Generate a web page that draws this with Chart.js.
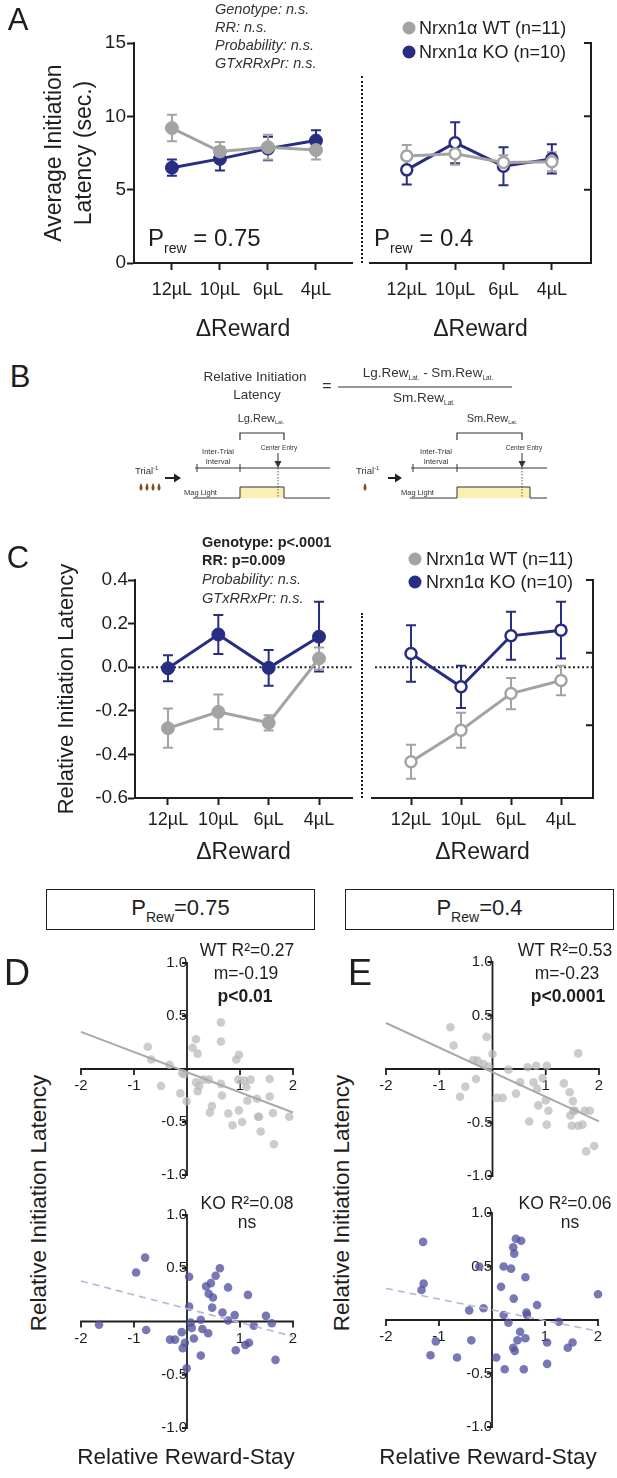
<!DOCTYPE html>
<html>
<head>
<meta charset="utf-8">
<script src="https://cdn.jsdelivr.net/npm/chart.js@4.4.1/dist/chart.umd.min.js"></script>
<style>
  body { margin: 0; background: #fff; }
  #fig { position: relative; width: 617px; height: 1478px; overflow: hidden; font-family: "Liberation Sans", Arial, sans-serif; color: #1e1e1e; }
  #fig canvas { position: absolute; }
  .t { position: absolute; white-space: nowrap; line-height: 1; }
  .cc { transform: translate(-50%, -50%); }
  .lc { transform: translateY(-50%); }
  .stat { font-size: 14.5px; color: #333; }
  .it { font-style: italic; }
  .bd { font-weight: bold; }
  .dot { position: absolute; width: 13px; height: 13px; border-radius: 50%; transform: translate(-50%, -50%); }
  .leg { font-size: 18px; }
  .sep { position: absolute; border-left: 2px dotted #1e1e1e; width: 0; }
  .prew { font-size: 24px; }
  .prew sub { font-size: 14px; vertical-align: -7px; }
  .box { position: absolute; border: 1.5px solid #1e1e1e; box-sizing: border-box; display: flex; align-items: center; justify-content: center; font-size: 22px; }
  .box sub { font-size: 14px; vertical-align: -7px; }
  .fit { font-size: 17.5px; }
  .rot { transform: translate(-50%, -50%) rotate(-90deg); font-size: 22.5px; }
  .ax { font-size: 22.5px; }
  .panel { font-size: 31px; }
</style>
</head>
<body>
<div id="fig">
  <canvas id="aL" width="362" height="347" style="left:0;top:0"></canvas>
  <canvas id="aR" width="255" height="347" style="left:362px;top:0"></canvas>
  <canvas id="cL" width="362" height="330" style="left:0;top:540px"></canvas>
  <canvas id="cR" width="255" height="330" style="left:362px;top:540px"></canvas>
  <canvas id="dT" width="252" height="252" style="left:61px;top:943px"></canvas>
  <canvas id="dB" width="252" height="253" style="left:61px;top:1195px"></canvas>
  <canvas id="eT" width="253" height="254" style="left:366px;top:942px"></canvas>
  <canvas id="eB" width="252" height="254" style="left:366px;top:1193px"></canvas>

  <!-- panel A text -->
  <div class="t cc panel" style="left:18px;top:19px">A</div>
  <div class="t lc stat it" style="left:215px;top:9px">Genotype: n.s.</div>
  <div class="t lc stat it" style="left:215px;top:27px">RR: n.s.</div>
  <div class="t lc stat it" style="left:215px;top:45px">Probability: n.s.</div>
  <div class="t lc stat it" style="left:215px;top:63px">GTxRRxPr: n.s.</div>
  <div class="dot" style="left:409px;top:28px;background:#a3a3a3"></div>
  <div class="t lc leg" style="left:419px;top:28px">Nrxn1α WT (n=11)</div>
  <div class="dot" style="left:409px;top:52px;background:#262d82"></div>
  <div class="t lc leg" style="left:419px;top:52px">Nrxn1α KO (n=10)</div>
  <div class="t lc prew" style="left:148px;top:240px">P<sub>rew</sub> = 0.75</div>
  <div class="t lc prew" style="left:374px;top:240px">P<sub>rew</sub> = 0.4</div>
  <div class="sep" style="left:361px;top:76px;height:187px"></div>

  <!-- panel B schematic -->
  <div class="t cc panel" style="left:20px;top:376px">B</div>
  <svg style="position:absolute;left:0;top:340px" width="617" height="170" viewBox="0 340 617 170"
       font-family="Liberation Sans, Arial, sans-serif" fill="#333">
    <text x="255" y="381" text-anchor="middle" font-size="13.5">Relative Initiation</text>
    <text x="257" y="399" text-anchor="middle" font-size="13.5">Latency</text>
    <text x="327" y="391" text-anchor="middle" font-size="16">=</text>
    <text x="428" y="377" text-anchor="middle" font-size="13.5">Lg.Rew<tspan font-size="6.5" dy="3">Lat.</tspan><tspan dy="-3"> - Sm.Rew</tspan><tspan font-size="6.5" dy="3">Lat.</tspan></text>
    <line x1="338" y1="387" x2="512" y2="387" stroke="#333" stroke-width="1.2"/>
    <text x="424" y="402" text-anchor="middle" font-size="13.5">Sm.Rew<tspan font-size="6.5" dy="3">Lat.</tspan></text>

    <text x="261" y="422" text-anchor="middle" font-size="11">Lg.Rew<tspan font-size="5.5" dy="2">Lat.</tspan></text>
    <path d="M240 440 V433 H284 V440" fill="none" stroke="#333" stroke-width="1.2"/>
    <text x="218" y="454" text-anchor="middle" font-size="7.5">Inter-Trial</text>
    <text x="218" y="464" text-anchor="middle" font-size="7.5">Interval</text>
    <text x="279" y="450" text-anchor="middle" font-size="6.5">Center Entry</text>
    <line x1="278" y1="453" x2="278" y2="462" stroke="#333" stroke-width="1"/>
    <polygon points="274.5,461 281.5,461 278,468" fill="#333"/>
    <line x1="195" y1="468" x2="330" y2="468" stroke="#333" stroke-width="1"/>
    <line x1="197" y1="464" x2="197" y2="472" stroke="#333" stroke-width="1"/>
    <line x1="240" y1="464" x2="240" y2="472" stroke="#333" stroke-width="1"/>
    <rect x="240" y="487" width="44" height="11" fill="#fcefb6"/>
    <polyline points="193,498 240,498 240,487 284,487 284,498 330,498" fill="none" stroke="#333" stroke-width="1"/>
    <line x1="278" y1="468" x2="278" y2="498" stroke="#333" stroke-width="0.8" stroke-dasharray="1.5 1.5"/>
    <text x="135" y="474" font-size="9.5">Trial<tspan font-size="6" dy="-4">-1</tspan></text>
    <line x1="165" y1="478" x2="175" y2="478" stroke="#222" stroke-width="2"/>
    <polygon points="174,473.5 181,478 174,482.5" fill="#222"/>
    <path d="M141 483 Q144 488 141 491 Q138 488 141 483 Z M147 483 Q150 488 147 491 Q144 488 147 483 Z M153 483 Q156 488 153 491 Q150 488 153 483 Z M159 483 Q162 488 159 491 Q156 488 159 483 Z" fill="#8a4b1f"/>
    <text x="184" y="495" font-size="7.5">Mag Light</text>

    <text x="492" y="422" text-anchor="middle" font-size="11">Sm.Rew<tspan font-size="5.5" dy="2">Lat.</tspan></text>
    <path d="M457 440 V433 H522 V440" fill="none" stroke="#333" stroke-width="1.2"/>
    <text x="436" y="454" text-anchor="middle" font-size="7.5">Inter-Trial</text>
    <text x="436" y="464" text-anchor="middle" font-size="7.5">Interval</text>
    <text x="524" y="450" text-anchor="middle" font-size="6.5">Center Entry</text>
    <line x1="522" y1="453" x2="522" y2="462" stroke="#333" stroke-width="1"/>
    <polygon points="518.5,461 525.5,461 522,468" fill="#333"/>
    <line x1="411" y1="468" x2="547" y2="468" stroke="#333" stroke-width="1"/>
    <line x1="413" y1="464" x2="413" y2="472" stroke="#333" stroke-width="1"/>
    <line x1="457" y1="464" x2="457" y2="472" stroke="#333" stroke-width="1"/>
    <rect x="457" y="487" width="73" height="11" fill="#fcefb6"/>
    <polyline points="410,498 457,498 457,487 530,487 530,498 547,498" fill="none" stroke="#333" stroke-width="1"/>
    <line x1="522" y1="468" x2="522" y2="498" stroke="#333" stroke-width="0.8" stroke-dasharray="1.5 1.5"/>
    <text x="356" y="474" font-size="9.5">Trial<tspan font-size="6" dy="-4">-1</tspan></text>
    <line x1="388" y1="478" x2="396" y2="478" stroke="#222" stroke-width="2"/>
    <polygon points="395,473.5 402,478 395,482.5" fill="#222"/>
    <path d="M365 483 Q368 488 365 491 Q362 488 365 483 Z" fill="#8a4b1f"/>
    <text x="401" y="495" font-size="7.5">Mag Light</text>
  </svg>

  <!-- panel C text -->
  <div class="t cc panel" style="left:18px;top:557px">C</div>
  <div class="t lc stat bd" style="left:202px;top:542px;color:#222">Genotype: p&lt;.0001</div>
  <div class="t lc stat bd" style="left:202px;top:560px;color:#222">RR: p=0.009</div>
  <div class="t lc stat it" style="left:202px;top:579px">Probability: n.s.</div>
  <div class="t lc stat it" style="left:202px;top:598px">GTxRRxPr: n.s.</div>
  <div class="dot" style="left:415px;top:559px;background:#a3a3a3"></div>
  <div class="t lc leg" style="left:426px;top:559px">Nrxn1α WT (n=11)</div>
  <div class="dot" style="left:415px;top:582px;background:#262d82"></div>
  <div class="t lc leg" style="left:426px;top:582px">Nrxn1α KO (n=10)</div>
  <div class="sep" style="left:361px;top:613px;height:185px"></div>

  <!-- panels D / E text -->
  <div class="box" style="left:46px;top:889px;width:269px;height:41px"><span>P<sub>Rew</sub>=0.75</span></div>
  <div class="box" style="left:345px;top:889px;width:269px;height:41px"><span>P<sub>Rew</sub>=0.4</span></div>
  <div class="t cc panel" style="left:17px;top:973px;font-size:36px">D</div>
  <div class="t cc panel" style="left:360px;top:973px;font-size:36px">E</div>
  <div class="t cc fit" style="left:247px;top:951px">WT R²=0.27</div>
  <div class="t cc fit" style="left:246px;top:974px">m=-0.19</div>
  <div class="t cc fit bd" style="left:245px;top:997px">p&lt;0.01</div>
  <div class="t cc fit" style="left:565px;top:951px">WT R²=0.53</div>
  <div class="t cc fit" style="left:567px;top:974px">m=-0.23</div>
  <div class="t cc fit bd" style="left:568px;top:997px">p&lt;0.0001</div>
  <div class="t cc fit" style="left:247px;top:1204px">KO R²=0.08</div>
  <div class="t cc fit" style="left:247px;top:1223px">ns</div>
  <div class="t cc fit" style="left:565px;top:1204px">KO R²=0.06</div>
  <div class="t cc fit" style="left:570px;top:1223px">ns</div>
  <div class="t rot" style="left:39px;top:1203px">Relative Initiation Latency</div>
  <div class="t rot" style="left:342px;top:1203px">Relative Initiation Latency</div>
  <div class="t cc ax" style="left:186px;top:1457px">Relative Reward-Stay</div>
  <div class="t cc ax" style="left:488px;top:1457px">Relative Reward-Stay</div>
</div>

<script>
const GRAY = '#a3a3a3';
const NAVY = '#262d82';
const INK = '#1e1e1e';

// reward size categories (x axis of A and C)
const rewardLabels = ['12µL', '10µL', '6µL', '4µL'];

// A: average initiation latency (sec.), mean and SEM
const aWtP75 = [9.2, 7.6, 7.9, 7.7];
const aWtP75Err = [0.9, 0.65, 0.85, 0.65];
const aKoP75 = [6.5, 7.1, 7.8, 8.35];
const aKoP75Err = [0.55, 0.8, 0.8, 0.7];
const aWtP40 = [7.3, 7.45, 6.85, 6.9];
const aWtP40Err = [0.75, 0.75, 0.5, 0.65];
const aKoP40 = [6.35, 8.2, 6.6, 7.1];
const aKoP40Err = [1.0, 1.4, 1.3, 1.0];

// C: relative initiation latency, mean and SEM
const cWtP75 = [-0.28, -0.205, -0.255, 0.04];
const cWtP75Err = [0.09, 0.08, 0.035, 0.05];
const cKoP75 = [-0.005, 0.15, -0.003, 0.14];
const cKoP75Err = [0.06, 0.09, 0.082, 0.16];
const cWtP40 = [-0.434, -0.289, -0.121, -0.061];
const cWtP40Err = [0.078, 0.08, 0.072, 0.068];
const cKoP40 = [0.063, -0.09, 0.144, 0.17];
const cKoP40Err = [0.13, 0.097, 0.11, 0.13];

// D / E: [relative reward-stay, relative initiation latency] per animal-session
const dWtPoints = [[-0.74,0.21],[-0.675,0.09],[-0.49,-0.16],[-0.33,0.04],[-0.125,-0.23],[-0.09,-0.04],[-0.05,-0.05],[-0.006,-0.305],[0.106,0.2],[0.17,0.28],[0.2,0.145],[0.17,-0.126],[0.23,-0.16],[0.2,-0.21],[0.31,-0.1],[0.41,-0.1],[0.47,-0.35],[0.43,-0.41],[0.64,0.44],[0.64,0.26],[0.64,-0.14],[0.66,-0.25],[0.78,-0.42],[0.86,-0.53],[0.93,0.09],[0.98,0.135],[0.97,-0.1],[0.98,-0.39],[1.04,-0.5],[1.075,-0.11],[1.12,-0.17],[1.14,-0.3],[1.2,-0.1],[1.32,-0.28],[1.34,-0.45],[1.39,-0.59],[1.56,-0.094],[1.56,-0.26],[1.62,-0.415],[1.64,-0.71],[1.93,-0.45],[1.36,-0.45]];
const eWtPoints = [[-0.79,0.39],[-0.73,0.22],[-0.61,-0.26],[-0.51,-0.165],[-0.36,0.084],[-0.31,-0.093],[-0.28,0.078],[-0.17,0.047],[-0.11,0.3],[-0.075,0.022],[0,0.14],[0.08,-0.27],[0.19,-0.27],[0.3,-0.006],[0.44,-0.23],[0.52,-0.124],[0.66,0.016],[0.69,-0.49],[0.77,-0.124],[0.82,0.03],[0.84,-0.186],[0.86,-0.34],[0.94,-0.084],[1.0,-0.295],[1.02,0.03],[1.05,-0.39],[1.02,-0.52],[1.34,-0.134],[1.45,-0.217],[1.51,-0.3],[1.52,-0.39],[1.46,-0.435],[1.55,-0.39],[1.49,-0.53],[1.61,-0.53],[1.69,-0.52],[1.61,0.146],[1.73,-0.39],[1.83,-0.39],[1.76,-0.77],[1.91,-0.72]];
const dKoPoints = [[-1.66,-0.03],[-0.96,0.46],[-0.79,0.6],[-0.77,-0.08],[-0.32,-0.17],[-0.225,-0.17],[-0.1,-0.1],[-0.08,-0.25],[-0.04,-0.2],[-0.006,-0.44],[0.04,0.42],[0.04,0.14],[0.07,-0.01],[0.09,-0.06],[0.13,-0.16],[0.26,0.016],[0.26,-0.32],[0.29,-0.07],[0.36,0.33],[0.4,-0.11],[0.41,0.26],[0.45,0.36],[0.49,0.225],[0.475,0.13],[0.54,0.43],[0.62,0.5],[0.67,0.084],[0.775,0.32],[0.775,0.01],[0.9,0.06],[0.92,-0.27],[1.1,-0.22],[1.17,-0.2],[1.15,0.25],[1.26,-0.04],[1.49,0.053],[1.6,-0.016],[1.67,-0.36]];
const eKoPoints = [[-1.3,0.73],[-1.29,0.34],[-1.33,0.28],[-1.06,-0.2],[-1.16,-0.33],[-0.66,-0.35],[-0.43,0.09],[-0.39,-0.19],[-0.24,0.5],[-0.16,0.11],[0.08,-0.35],[0.17,0.31],[0.22,0.5],[0.22,0.047],[0.24,-0.46],[0.31,-0.025],[0.36,0.48],[0.4,0.68],[0.42,0.62],[0.41,0.2],[0.4,-0.26],[0.43,-0.29],[0.45,0.76],[0.48,-0.19],[0.53,-0.11],[0.55,0.74],[0.63,-0.17],[0.63,0.4],[0.6,-0.46],[0.65,0.07],[0.66,0.047],[0.85,0.14],[1.04,-0.21],[1.04,-0.41],[1.26,-0.016],[1.43,-0.26],[1.52,-0.21],[2.0,0.24]];

// linear fits drawn across the x range
const dWtFit = { slope: -0.19, intercept: -0.03 };
const eWtFit = { slope: -0.23, intercept: -0.03 };
const dKoFit = { slope: -0.13, intercept: 0.12 };
const eKoFit = { slope: -0.10, intercept: 0.095 };
const fitRange = [-2, 2];

Chart.defaults.font.family = '"Liberation Sans", Arial, sans-serif';
Chart.defaults.color = INK;
Chart.defaults.animation = false;

// SEM whiskers, drawn under the points
const errorBarsPlugin = {
  id: 'errorBars',
  beforeDatasetsDraw(chart) {
    const ctx = chart.ctx;
    const yScale = chart.scales.y;
    for (let i = chart.data.datasets.length - 1; i >= 0; i--) {
      const ds = chart.data.datasets[i];
      if (!ds.errors) continue;
      const meta = chart.getDatasetMeta(i);
      ctx.save();
      ctx.strokeStyle = ds.borderColor;
      ctx.lineWidth = 2;
      meta.data.forEach((pt, j) => {
        const v = ds.data[j].y, e = ds.errors[j];
        const top = yScale.getPixelForValue(v + e);
        const bot = yScale.getPixelForValue(v - e);
        ctx.beginPath();
        ctx.moveTo(pt.x, top); ctx.lineTo(pt.x, bot);
        ctx.moveTo(pt.x - 5, top); ctx.lineTo(pt.x + 5, top);
        ctx.moveTo(pt.x - 5, bot); ctx.lineTo(pt.x + 5, bot);
        ctx.stroke();
      });
      ctx.restore();
    }
  }
};

// extra axis lines with inward / crossing ticks, plus optional dotted zero line
const framePlugin = {
  id: 'frame',
  beforeDatasetsDraw(chart, args, opts) {
    const ctx = chart.ctx, area = chart.chartArea;
    ctx.save();
    ctx.strokeStyle = INK;
    ctx.lineWidth = opts.width || 2;
    if (opts.zero) {
      const y0 = chart.scales.y.getPixelForValue(0);
      ctx.save();
      ctx.setLineDash([2, 2.5]);
      ctx.beginPath();
      ctx.moveTo(area.left + 3, y0); ctx.lineTo(area.right, y0);
      ctx.stroke();
      ctx.restore();
    }
    const half = ctx.lineWidth / 2;
    (opts.axes || []).forEach(ax => {
      const s = chart.scales[ax.scale];
      const len = ax.len || 7;
      const skip = ax.skip || [];
      ctx.beginPath();
      if (s.isHorizontal()) {
        const yp = chart.scales.y.getPixelForValue(ax.at);
        ctx.moveTo(area.left - half, yp); ctx.lineTo(area.right + half, yp);
        s.ticks.forEach(t => {
          if (skip.includes(t.value)) return;
          const xp = s.getPixelForValue(t.value);
          ctx.moveTo(xp, yp); ctx.lineTo(xp, yp + len);
        });
      } else {
        const xp = ax.at === 'right' ? area.right : chart.scales.x.getPixelForValue(ax.at);
        ctx.moveTo(xp, area.top - half); ctx.lineTo(xp, area.bottom + half);
        s.ticks.forEach(t => {
          if (skip.includes(t.value)) return;
          const yp = s.getPixelForValue(t.value);
          ctx.moveTo(xp, yp); ctx.lineTo(xp - len, yp);
        });
      }
      ctx.stroke();
    });
    ctx.restore();
  }
};

function series(label, values, errors, color, open) {
  return {
    label: label,
    data: values.map((v, i) => ({ x: i, y: v })),
    errors: errors,
    borderColor: color,
    borderWidth: 3,
    pointRadius: open ? 5.5 : 6.5,
    pointBorderWidth: open ? 2.5 : 1,
    pointBorderColor: color,
    pointBackgroundColor: open ? '#fff' : color,
    clip: false
  };
}

const noGrid = { display: false, drawTicks: false };
// outward tick marks + axis line drawn by Chart.js itself
const tickGrid = { display: true, drawOnChartArea: false, drawTicks: true, tickLength: 7, tickWidth: 2, tickColor: INK, color: INK };
const axisBorder = { display: true, color: INK, width: 2 };

function groupChart(id, cfg) {
  const left = cfg.side === 'left';
  const scales = {
    x: {
      type: 'linear', min: cfg.xMin, max: cfg.xMax,
      grid: tickGrid, border: axisBorder,
      afterBuildTicks: s => { s.ticks = rewardLabels.map((_, i) => ({ value: i })); },
      afterFit: s => { s.height = cfg.xHeight; },
      ticks: { padding: cfg.xPad, font: { size: 18 }, color: INK, maxRotation: 0, autoSkip: false,
               callback: v => rewardLabels[v] },
      title: { display: true, text: 'ΔReward', color: INK, font: { size: 23, lineHeight: 1.2 }, padding: { top: 0, bottom: 4 } }
    },
    y: {
      type: 'linear', min: cfg.yMin, max: cfg.yMax,
      position: cfg.side,
      grid: left ? tickGrid : noGrid, border: left ? axisBorder : { display: false },
      afterFit: s => { s.width = cfg.yWidth; },
      ticks: { display: left, stepSize: cfg.yStep, padding: cfg.yPad, font: { size: 19 }, color: INK,
               callback: v => cfg.yFmt(v) },
      title: cfg.yTitle ? { display: true, text: cfg.yTitle, color: INK, font: { size: cfg.yTitleSize, lineHeight: cfg.yTitleLh }, padding: { top: 4, bottom: 0 } } : { display: false }
    }
  };
  if (cfg.y2) scales.y2 = cfg.y2;
  return new Chart(document.getElementById(id), {
    type: 'line',
    data: { datasets: [
      series('Nrxn1α WT', cfg.wt, cfg.wtErr, GRAY, cfg.open),
      series('Nrxn1α KO', cfg.ko, cfg.koErr, NAVY, cfg.open)
    ] },
    options: {
      responsive: false,
      animation: false,
      layout: { padding: cfg.padding },
      plugins: { legend: { display: false }, tooltip: { enabled: false }, frame: cfg.frame },
      scales: scales
    },
    plugins: [framePlugin, errorBarsPlugin]
  });
}

const fmtInt = v => String(v);
const fmt1 = v => v.toFixed(1);

// Panel A
groupChart('aL', {
  wt: aWtP75, wtErr: aWtP75Err, ko: aKoP75, koErr: aKoP75Err, open: false,
  xMin: -0.79, xMax: 3.75, xHeight: 84, xPad: 9,
  yMin: 0, yMax: 15, yStep: 5, yFmt: fmtInt, side: 'left', yWidth: 98, yPad: 1,
  yTitle: ['Average Initiation', 'Latency (sec.)'], yTitleSize: 23, yTitleLh: 1.3,
  padding: { left: 36, top: 43, right: 10, bottom: 0 },
  frame: {}
});
groupChart('aR', {
  wt: aWtP40, wtErr: aWtP40Err, ko: aKoP40, koErr: aKoP40Err, open: true,
  xMin: -0.76, xMax: 3.81, xHeight: 84, xPad: 9,
  yMin: 0, yMax: 15, yStep: 5, yFmt: fmtInt, side: 'right', yWidth: 0, yPad: 0,
  padding: { left: 8, top: 43, right: 26, bottom: 0 },
  frame: { axes: [{ scale: 'y', at: 'right', len: 7, skip: [0] }] }
});

// Panel C
groupChart('cL', {
  wt: cWtP75, wtErr: cWtP75Err, ko: cKoP75, koErr: cKoP75Err, open: false,
  xMin: -0.655, xMax: 3.655, xHeight: 72, xPad: 4,
  yMin: -0.6, yMax: 0.4, yStep: 0.2, yFmt: fmt1, side: 'left', yWidth: 85, yPad: 0,
  yTitle: 'Relative Initiation Latency', yTitleSize: 22, yTitleLh: 1.2,
  padding: { left: 50, top: 40, right: 10, bottom: 0 },
  frame: { zero: true }
});
groupChart('cR', {
  wt: cWtP40, wtErr: cWtP40Err, ko: cKoP40, koErr: cKoP40Err, open: true,
  xMin: -0.78, xMax: 3.64, xHeight: 72, xPad: 4,
  yMin: -0.6, yMax: 0.4, yStep: 0.2, yFmt: fmt1, side: 'right', yWidth: 0, yPad: 0,
  padding: { left: 10, top: 40, right: 24, bottom: 0 },
  y2: { type: 'linear', min: 0, max: 15, position: 'right', grid: noGrid, border: { display: false },
        ticks: { display: false, stepSize: 5 }, afterFit: s => { s.width = 0; } },
  frame: { zero: true, axes: [{ scale: 'y2', at: 'right', len: 7, skip: [0] }] }
});

// Panels D / E
function scatterChart(id, points, color, fit, lineColor, dashed) {
  return new Chart(document.getElementById(id), {
    type: 'scatter',
    data: { datasets: [
      {
        type: 'line',
        data: fitRange.map(x => ({ x: x, y: fit.intercept + fit.slope * x })),
        borderColor: lineColor, borderWidth: dashed ? 1.6 : 2,
        borderDash: dashed ? [7, 5] : [],
        pointRadius: 0, fill: false, clip: false
      },
      {
        data: points.map(p => ({ x: p[0], y: p[1] })),
        pointRadius: 4.3, pointBorderWidth: 0,
        pointBackgroundColor: color, backgroundColor: color, clip: false
      }
    ] },
    options: {
      responsive: false,
      animation: false,
      layout: { padding: 20 },
      plugins: {
        legend: { display: false }, tooltip: { enabled: false },
        frame: { width: 1.8, axes: [
          { scale: 'y', at: 0, len: 5, skip: [0] },
          { scale: 'x', at: 0, len: 6, skip: [0] }
        ] }
      },
      scales: {
        x: { type: 'linear', min: -2, max: 2, position: { y: 0 },
             grid: noGrid, border: { display: false },
             ticks: { stepSize: 1, padding: 8, font: { size: 15 }, color: INK, callback: v => v === 0 ? '' : String(v) } },
        y: { type: 'linear', min: -1, max: 1, position: { x: 0 },
             grid: noGrid, border: { display: false },
             ticks: { stepSize: 0.5, padding: 6, font: { size: 15 }, color: INK, callback: v => v === 0 ? '' : v.toFixed(1) } }
      }
    },
    plugins: [framePlugin]
  });
}

const WT_DOT = 'rgba(185,185,185,0.72)';
const KO_DOT = 'rgba(82,82,160,0.78)';
scatterChart('dT', dWtPoints, WT_DOT, dWtFit, '#a9a9a9', false);
scatterChart('eT', eWtPoints, WT_DOT, eWtFit, '#a9a9a9', false);
scatterChart('dB', dKoPoints, KO_DOT, dKoFit, '#b5b5da', true);
scatterChart('eB', eKoPoints, KO_DOT, eKoFit, '#b5b5da', true);
</script>
</body>
</html>
